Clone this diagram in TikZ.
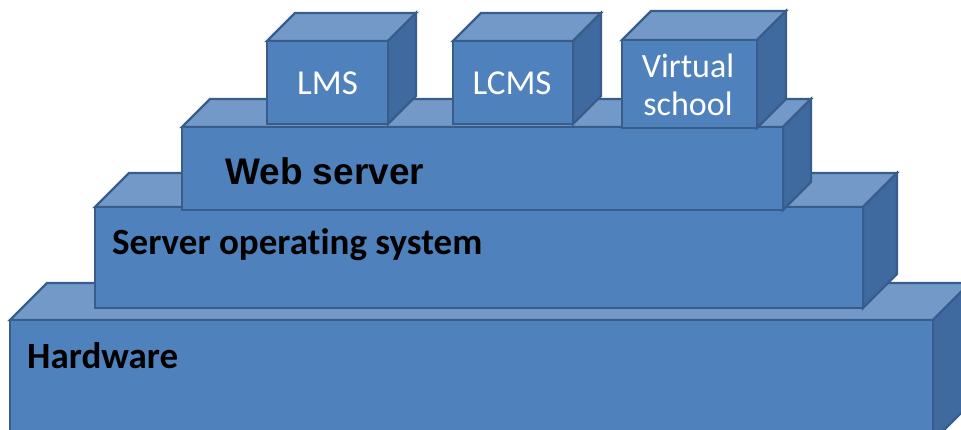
\documentclass[tikz,border=0pt]{standalone}
\usepackage{fontspec}
\setmainfont{Carlito}[Ligatures=NoCommon]
\newfontfamily\arialfont{Liberation Sans}
\definecolor{frontc}{HTML}{4F81BD}
\definecolor{topc}{HTML}{7399C9}
\definecolor{sidec}{HTML}{3F6A9F}
\definecolor{edgec}{HTML}{385D8A}
\tikzset{
  face/.style={draw=edgec, line width=2.4pt, line join=miter},
  frontface/.style={face, fill=frontc, rectangle, inner sep=0pt, outer sep=0pt, anchor=north west},
  topface/.style={face, fill=topc},
  sideface/.style={face, fill=sidec},
  biglabel/.style={font=\bfseries\fontsize{37}{40}\selectfont, text=black, inner sep=0pt, anchor=base west},
  weblabel/.style={font=\arialfont\bfseries\fontsize{37}{40}\selectfont, text=black, inner sep=0pt, anchor=base west},
  smalllabel/.style={font=\fontsize{35}{38}\selectfont, text=white, inner sep=0pt, align=center},
}
% #1 name, #2 x, #3 y, #4 width, #5 height, #6 depth
\newcommand{\cubebox}[6]{%
  \path (#2,#3) node[frontface, minimum width=#4pt, minimum height=#5pt] (#1) {};
  \draw[topface] (#1.north west) -- ++(#6,-#6) -- ++(#4,0) -- (#1.north east) -- cycle;
  \draw[sideface] (#1.north east) -- ++(#6,-#6) -- ++(0,#5) -- (#1.south east) -- cycle;
  \path (#2,#3) node[frontface, minimum width=#4pt, minimum height=#5pt] {};
}
\begin{document}
\begin{tikzpicture}[x=1pt,y=-1pt]
\useasboundingbox (0,0) rectangle (961,430);
\clip (0,0) rectangle (961,430);
\cubebox{hw}{10}{320}{923}{121}{37}
\cubebox{os}{95}{207}{768}{101}{34}
\cubebox{web}{182}{127}{601}{83}{28}
\cubebox{lms}{267}{41}{121}{83}{28}
\cubebox{lcms}{453}{41}{120}{83}{28}
\cubebox{vs}{622}{40}{135}{88}{29}
\node[biglabel] (hwt) at (27,368) {Hardware};
\node[biglabel] (ost) at (112,255) {Server operating system};
\node[weblabel] (webt) at (225,185) {Web server};
\node[smalllabel] (lmst) at (327.5,83) {LMS};
\node[smalllabel] (lcmst) at (512,83) {LCMS};
\node[smalllabel, font=\fontsize{34}{38}\selectfont] (vst) at (688,85) {Virtual\\school};
\end{tikzpicture}
\end{document}
